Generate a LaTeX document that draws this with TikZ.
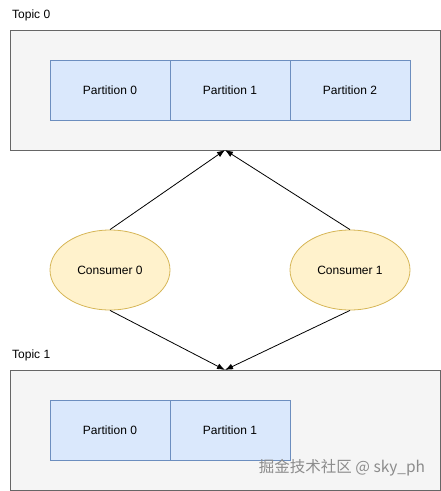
\documentclass[tikz,border=0pt]{standalone}
\usepackage{fontspec}
\setmainfont{Liberation Sans}
\newfontfamily\cjk{Noto Sans CJK SC}
\usetikzlibrary{arrows.meta,shapes.geometric}
\definecolor{topicfill}{HTML}{F5F5F5}
\definecolor{topicdraw}{HTML}{666666}
\definecolor{partfill}{HTML}{DAE8FC}
\definecolor{partdraw}{HTML}{6C8EBF}
\definecolor{consfill}{HTML}{FFF2CC}
\definecolor{consdraw}{HTML}{D6B656}
\tikzset{
  topicbox/.style={draw=topicdraw, fill=topicfill, line width=0.8pt, minimum width=430pt, minimum height=120pt, inner sep=0pt},
  partbox/.style={draw=partdraw, fill=partfill, line width=0.8pt, minimum width=120pt, minimum height=60pt, inner sep=0pt, font=\fontsize{12pt}{14pt}\selectfont},
  consumer/.style={ellipse, draw=consdraw, fill=consfill, line width=0.8pt, minimum width=120pt, minimum height=80pt, inner sep=0pt, font=\fontsize{12pt}{14pt}\selectfont},
  label/.style={anchor=west, inner sep=0pt, font=\fontsize{12pt}{14pt}\selectfont},
  conn/.style={line width=0.8pt, -{Latex[length=8pt,width=6pt]}}
}
\begin{document}
\begin{tikzpicture}[x=1pt,y=-1pt]
\useasboundingbox (0,0) rectangle (441,491);
\node[label] (t0label) at (12,15) {Topic 0};
\node[topicbox] (topic0) at (225,90) {};
\node[partbox] (p00) at (110,90) {Partition 0};
\node[partbox] (p01) at (230,90) {Partition 1};
\node[partbox] (p02) at (350,90) {Partition 2};

\node[consumer] (c0) at (110,270) {Consumer 0};
\node[consumer] (c1) at (350,270) {Consumer 1};

\node[label] (t1label) at (12,355) {Topic 1};
\node[topicbox] (topic1) at (225,430) {};
\node[partbox] (p10) at (110,430) {Partition 0};
\node[partbox] (p11) at (230,430) {Partition 1};

\coordinate (t0in) at (225,150);
\coordinate (t1in) at (225,370);
\draw[conn] (c0.north) -- (t0in);
\draw[conn] (c1.north) -- (t0in);
\draw[conn] (c0.south) -- (t1in);
\draw[conn] (c1.south) -- (t1in);

\node[inner sep=0pt, text=black!45, font=\cjk\fontsize{15.5pt}{17pt}\selectfont] (wm) at (342,468) {掘金技术社区 @ sky\_ph};
\end{tikzpicture}
\end{document}
